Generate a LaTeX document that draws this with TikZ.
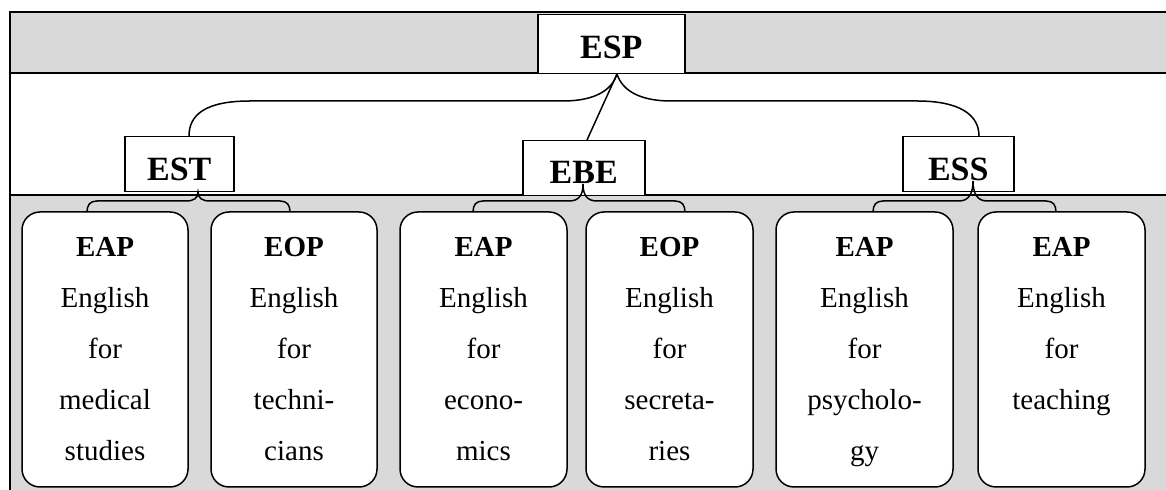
\documentclass[tikz,border=0pt]{standalone}
\usepackage{fontspec}
\setmainfont{Liberation Serif}
\definecolor{bandgray}{HTML}{D9D9D9}
\begin{document}
\begin{tikzpicture}[x=0.5pt,y=-0.5pt,
  frameline/.style={line width=1pt},
  headbox/.style={draw, line width=0.75pt, fill=white, inner sep=0pt,
    anchor=north west, font=\fontsize{17}{20}\selectfont\bfseries},
  pillbox/.style={draw, line width=0.75pt, fill=white, rounded corners=9pt,
    inner sep=0pt, minimum height=137.5pt},
  pilltext/.style={anchor=base, align=center, text width=86pt, inner sep=0pt,
    font=\fontsize{14.5}{25.5}\selectfont},
  link/.style={line width=0.75pt}]
\useasboundingbox (0,0) rectangle (1166,490);

% background bands and frame
\fill[bandgray] (10,12) rectangle (1166,73);
\fill[bandgray] (10,195) rectangle (1166,490);
\draw[frameline] (1166,12) -- (10,12) -- (10,490);
\draw[frameline] (10,73) -- (1166,73);
\draw[frameline] (10,195) -- (1166,195);

% top level and branches
\node[headbox, minimum width=73.5pt, text height=22pt, text depth=7.5pt] (esp) at (537,14) {ESP};
\node[headbox, minimum width=54.5pt, text height=22pt, text depth=5.5pt] (est) at (124,136) {EST};
\node[headbox, minimum width=61pt, text height=21.5pt, text depth=6pt] (ebe) at (522,140) {EBE};
\node[headbox, minimum width=55.5pt, text height=22pt, text depth=5.5pt] (ess) at (902,136) {ESS};

% leaf boxes
\node[pillbox, minimum width=83pt]   (b1) at (105,349.5) {};
\node[pillbox, minimum width=83pt]   (b2) at (294,349.5) {};
\node[pillbox, minimum width=83.5pt] (b3) at (483.5,349.5) {};
\node[pillbox, minimum width=83.5pt] (b4) at (669.5,349.5) {};
\node[pillbox, minimum width=88.5pt] (b5) at (864.5,349.5) {};
\node[pillbox, minimum width=83.5pt] (b6) at (1061.5,349.5) {};

\node[pilltext] (t1) at (105,257) {\textbf{EAP}\\English\\for\\medical\\studies};
\node[pilltext] (t2) at (294,257) {\textbf{EOP}\\English\\for\\techni-\\cians};
\node[pilltext] (t3) at (483.5,257) {\textbf{EAP}\\English\\for\\econo-\\mics};
\node[pilltext] (t4) at (669.5,257) {\textbf{EOP}\\English\\for\\secreta-\\ries};
\node[pilltext] (t5) at (864.5,257) {\textbf{EAP}\\English\\for\\psycholo-\\gy};
\node[pilltext] (t6) at (1061.5,257) {\textbf{EAP}\\English\\for\\teaching};

% connector anchor points
\coordinate (espfoot) at (617,74);
\coordinate (esttop) at (189,136);
\coordinate (ebetop) at (587,140);
\coordinate (esstop) at (979,136);
\coordinate (estfoot) at (198,192);
\coordinate (ebefoot) at (583,184);
\coordinate (essfoot) at (973,181);
\coordinate (e1) at (87,212);
\coordinate (e2) at (290,212);
\coordinate (e3) at (473,212);
\coordinate (e4) at (685,212);
\coordinate (e5) at (873,212);
\coordinate (e6) at (1056,212);

% ESP to its three branches
\draw[link] (espfoot) .. controls (612,90) and (595,101) .. (563,101)
  -- (250,101) .. controls (205,101) and (189,115) .. (esttop);
\draw[link] (espfoot) .. controls (622,90) and (639,101) .. (671,101)
  -- (917,101) .. controls (960,101) and (979,115) .. (esstop);
\draw[link] (espfoot) -- (ebetop);

% braces from each branch to its two leaves
\draw[link] (e1) .. controls (87,205) and (90,201) .. (97,201)
  -- (186,201) .. controls (194,201) and (198,198) .. (estfoot)
  .. controls (198,198) and (202,201) .. (210,201)
  -- (280,201) .. controls (287,201) and (290,205) .. (e2);
\draw[link] (e3) .. controls (473,205) and (476,201) .. (483,201)
  -- (569,201) .. controls (579,201) and (583,195) .. (ebefoot)
  .. controls (583,195) and (587,201) .. (597,201)
  -- (675,201) .. controls (682,201) and (685,205) .. (e4);
\draw[link] (e5) .. controls (873,205) and (876,201) .. (883,201)
  -- (959,201) .. controls (969,201) and (973,193) .. (essfoot)
  .. controls (973,193) and (977,201) .. (987,201)
  -- (1046,201) .. controls (1053,201) and (1056,205) .. (e6);
\end{tikzpicture}
\end{document}
